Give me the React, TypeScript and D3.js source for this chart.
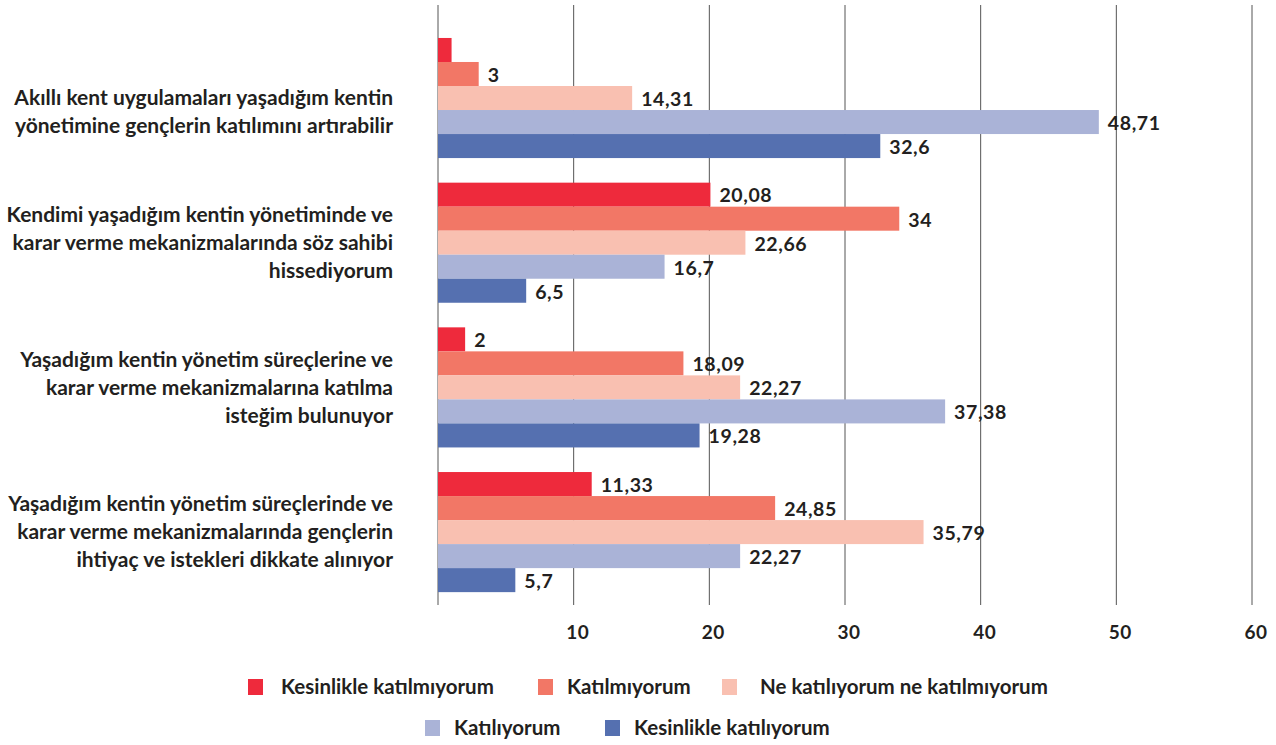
import React, { useEffect, useRef } from "react";
import * as d3 from "d3";

const categories = [
  ["", "Akıllı kent uygulamaları yaşadığım kentin", "yönetimine gençlerin katılımını artırabilir"],
  ["Kendimi yaşadığım kentin yönetiminde ve", "karar verme mekanizmalarında söz sahibi", "hissediyorum"],
  ["Yaşadığım kentin yönetim süreçlerine ve", "karar verme mekanizmalarına katılma", "isteğim bulunuyor"],
  ["Yaşadığım kentin yönetim süreçlerinde ve", "karar verme mekanizmalarında gençlerin", "ihtiyaç ve istekleri dikkate alınıyor"],
];

const seriesNames = [
  "Kesinlikle katılmıyorum",
  "Katılmıyorum",
  "Ne katılıyorum ne katılmıyorum",
  "Katılıyorum",
  "Kesinlikle katılıyorum",
];

const colors = ["#ee2a3c", "#f27766", "#f9c0b1", "#aab3d7", "#5570b0"];

// values per series, one per category
const kesinlikleKatilmiyorum = [1, 20.08, 2, 11.33];
const katilmiyorum = [3, 34, 18.09, 24.85];
const neNe = [14.31, 22.66, 22.27, 35.79];
const katiliyorum = [48.71, 16.7, 37.38, 22.27];
const kesinlikleKatiliyorum = [32.6, 6.5, 19.28, 5.7];

const seriesValues = [kesinlikleKatilmiyorum, katilmiyorum, neNe, katiliyorum, kesinlikleKatiliyorum];

// labels not shown in the original (series index, category index)
const hiddenLabels = ["0-0"];

const xTicks = [10, 20, 30, 40, 50, 60];

const fmt = (v: number) => String(v).replace(".", ",");

const App = () => {
  const ref = useRef<SVGSVGElement>(null);
  const width = 1276;
  const height = 745;

  useEffect(() => {
    const svg = d3.select(ref.current);
    svg.selectAll("*").remove();

    const x = d3.scaleLinear().domain([0, 60]).range([438, 1252]);
    const y = d3
      .scaleBand<number>()
      .domain(d3.range(categories.length))
      .range([23.5, 606.6])
      .paddingInner(0.17)
      .paddingOuter(0.1);
    const ySub = d3
      .scaleBand<number>()
      .domain(d3.range(seriesNames.length))
      .range([0, y.bandwidth()]);

    const font = "Lato, 'Open Sans', sans-serif";
    const ink = "#231f20";

    // grid lines
    svg
      .append("g")
      .selectAll("line")
      .data([0, ...xTicks])
      .join("line")
      .attr("x1", (d) => x(d))
      .attr("x2", (d) => x(d))
      .attr("y1", 5)
      .attr("y2", 605)
      .attr("stroke", "#555")
      .attr("stroke-width", 1);

    // tick labels
    svg
      .append("g")
      .selectAll("text")
      .data(xTicks)
      .join("text")
      .attr("x", (d) => x(d) + 4)
      .attr("y", 632)
      .attr("dy", "0.35em")
      .attr("text-anchor", "middle")
      .attr("font-family", font)
      .attr("font-weight", "bold")
      .attr("font-size", 19)
      .attr("letter-spacing", 0.5)
      .attr("fill", ink)
      .text((d) => d);

    // bars
    const rows = seriesValues.flatMap((vals, s) =>
      vals.map((v, c) => ({ s, c, v }))
    );

    svg
      .append("g")
      .selectAll("rect")
      .data(rows)
      .join("rect")
      .attr("x", x(0))
      .attr("y", (d) => y(d.c)! + ySub(d.s)!)
      .attr("width", (d) => x(d.v) - x(0))
      .attr("height", ySub.bandwidth())
      .attr("fill", (d) => colors[d.s]);

    svg
      .append("g")
      .selectAll("text")
      .data(rows.filter((d) => !hiddenLabels.includes(`${d.s}-${d.c}`)))
      .join("text")
      .attr("x", (d) => x(d.v) + 9)
      .attr("y", (d) => y(d.c)! + ySub(d.s)! + ySub.bandwidth() / 2 + 1)
      .attr("dy", "0.35em")
      .attr("font-family", font)
      .attr("font-weight", "bold")
      .attr("font-size", 19.5)
      .attr("letter-spacing", 0.6)
      .attr("fill", ink)
      .text((d) => fmt(d.v));

    // category labels
    const lineH = 28;
    const cat = svg
      .append("g")
      .selectAll("text")
      .data(categories)
      .join("text")
      .attr("text-anchor", "end")
      .attr("font-family", font)
      .attr("font-weight", "bold")
      .attr("font-size", 21)
      .attr("fill", ink);
    cat.each(function (lines, i) {
      const cy = y(i)! + y.bandwidth() / 2;
      const start = cy - ((lines.length - 1) * lineH) / 2;
      d3.select(this)
        .selectAll("tspan")
        .data(lines)
        .join("tspan")
        .attr("x", 393)
        .attr("y", (_, j) => start + j * lineH)
        .attr("dy", "0.35em")
        .text((d) => d);
    });

    // legend
    const legendPos = [
      { x: 248, y: 687 },
      { x: 538, y: 687 },
      { x: 722, y: 687 },
      { x: 425, y: 728 },
      { x: 605, y: 728 },
    ];
    const leg = svg
      .append("g")
      .selectAll("g")
      .data(seriesNames)
      .join("g")
      .attr("transform", (_, i) => `translate(${legendPos[i].x},${legendPos[i].y})`);
    leg
      .append("rect")
      .attr("x", 0)
      .attr("y", -8)
      .attr("width", 15)
      .attr("height", 16)
      .attr("fill", (_, i) => colors[i]);
    leg
      .append("text")
      .attr("x", (_, i) => (i === 2 ? 38 : i === 0 ? 33 : 29))
      .attr("y", 0)
      .attr("dy", "0.35em")
      .attr("font-family", font)
      .attr("font-weight", "bold")
      .attr("font-size", 20.5)
      .attr("fill", ink)
      .text((d) => d);
  }, []);

  return (
    <svg
      ref={ref}
      width={width}
      height={height}
      style={{ position: "absolute", left: 0, top: 0, background: "#fff" }}
    />
  );
};

export default App;
